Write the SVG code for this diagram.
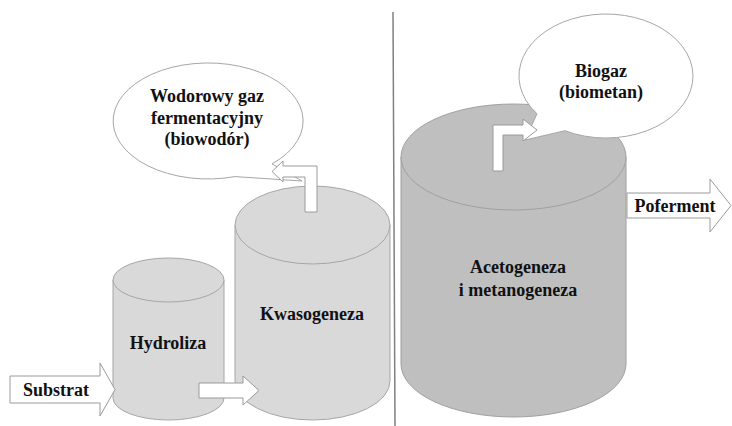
<svg xmlns="http://www.w3.org/2000/svg" width="732" height="426" viewBox="0 0 732 426">
  <style>
    .tank-light { fill: #d9d9d9; stroke: #a6a6a6; stroke-width: 1; }
    .tank-dark { fill: #bfbfbf; stroke: #a0a0a0; stroke-width: 1; }
    .bubble { fill: #ffffff; stroke: #a6a6a6; stroke-width: 1; }
    .arrow { fill: #ffffff; stroke: #9a9a9a; stroke-width: 1; stroke-linejoin: miter; }
    text { font-family: 'Liberation Serif', 'DejaVu Serif', serif; font-weight: bold; font-size: 18px; fill: #111111; text-anchor: middle; }
    .divider { stroke: #808080; stroke-width: 1.5; }
  </style>
  <rect width="732" height="426" fill="#ffffff"/>

  <!-- stage separator -->
  <line class="divider" x1="393" y1="12" x2="395" y2="426"/>

  <!-- Hydroliza tank -->
  <g id="hydroliza">
    <path class="tank-light" d="M113,280 L113,398 A55.5,22 0 0 0 224,398 L224,280 Z"/>
    <ellipse class="tank-light" cx="168.5" cy="280" rx="55.5" ry="22"/>
    <text x="168" y="349" font-family="Liberation Serif, serif">Hydroliza</text>
  </g>

  <!-- Kwasogeneza tank -->
  <g id="kwasogeneza">
    <path class="tank-light" d="M235,225 L235,381 A77.5,39 0 0 0 390,381 L390,225 Z"/>
    <ellipse class="tank-light" cx="312.5" cy="225" rx="77.5" ry="39"/>
    <text x="312" y="320">Kwasogeneza</text>
  </g>

  <!-- Acetogeneza i metanogeneza tank -->
  <g id="acetogeneza">
    <path class="tank-dark" d="M401,157 L401,364 A112.5,53 0 0 0 626,364 L626,157 Z"/>
    <ellipse class="tank-dark" cx="513.5" cy="157" rx="112.5" ry="53"/>
    <text x="518" y="273">Acetogeneza</text>
    <text x="518" y="296">i metanogeneza</text>
  </g>

  <!-- gas callouts -->
  <g id="biowodor">
    <path class="bubble" d="M272,163.9 A95,58 0 1 0 235,176.6 L302,181 Z"/>
    <text x="207" y="102">Wodorowy gaz</text>
    <text x="207" y="124">fermentacyjny</text>
    <text x="207" y="145">(biowodór)</text>
  </g>

  <g id="biogaz">
    <path class="bubble" d="M537,113.8 A87,62 0 1 1 565,130.7 L525,140 Z"/>
    <text x="601" y="77">Biogaz</text>
    <text x="601" y="98">(biometan)</text>
  </g>

  <!-- flow arrows -->
  <g id="connectors">
    <g id="substrat">
      <path class="arrow" d="M10,376 L100,376 L100,363 L115,389.5 L100,416 L100,403 L10,403 Z"/>
      <text x="56" y="396">Substrat</text>
    </g>
    <path id="hydroliza-to-kwasogeneza" class="arrow" d="M199,383 L243,383 L243,376 L259,390.5 L243,405 L243,398 L199,398 Z"/>
    <path id="kwasogeneza-to-biowodor" class="arrow" d="M305,212 L317,212 L317,166 L283,166 L283,161 L272,171.5 L283,182 L283,177 L305,177 Z"/>
    <path id="acetogeneza-to-biogaz" class="arrow" d="M493,171 L503,171 L503,135 L523,135 L523,141 L537,130 L523,119 L523,125 L493,125 Z"/>
    <g id="poferment">
      <path class="arrow" d="M627,193 L710,193 L710,179 L731,205.5 L710,232 L710,218 L627,218 Z"/>
      <text x="675" y="212">Poferment</text>
    </g>
  </g>
</svg>
